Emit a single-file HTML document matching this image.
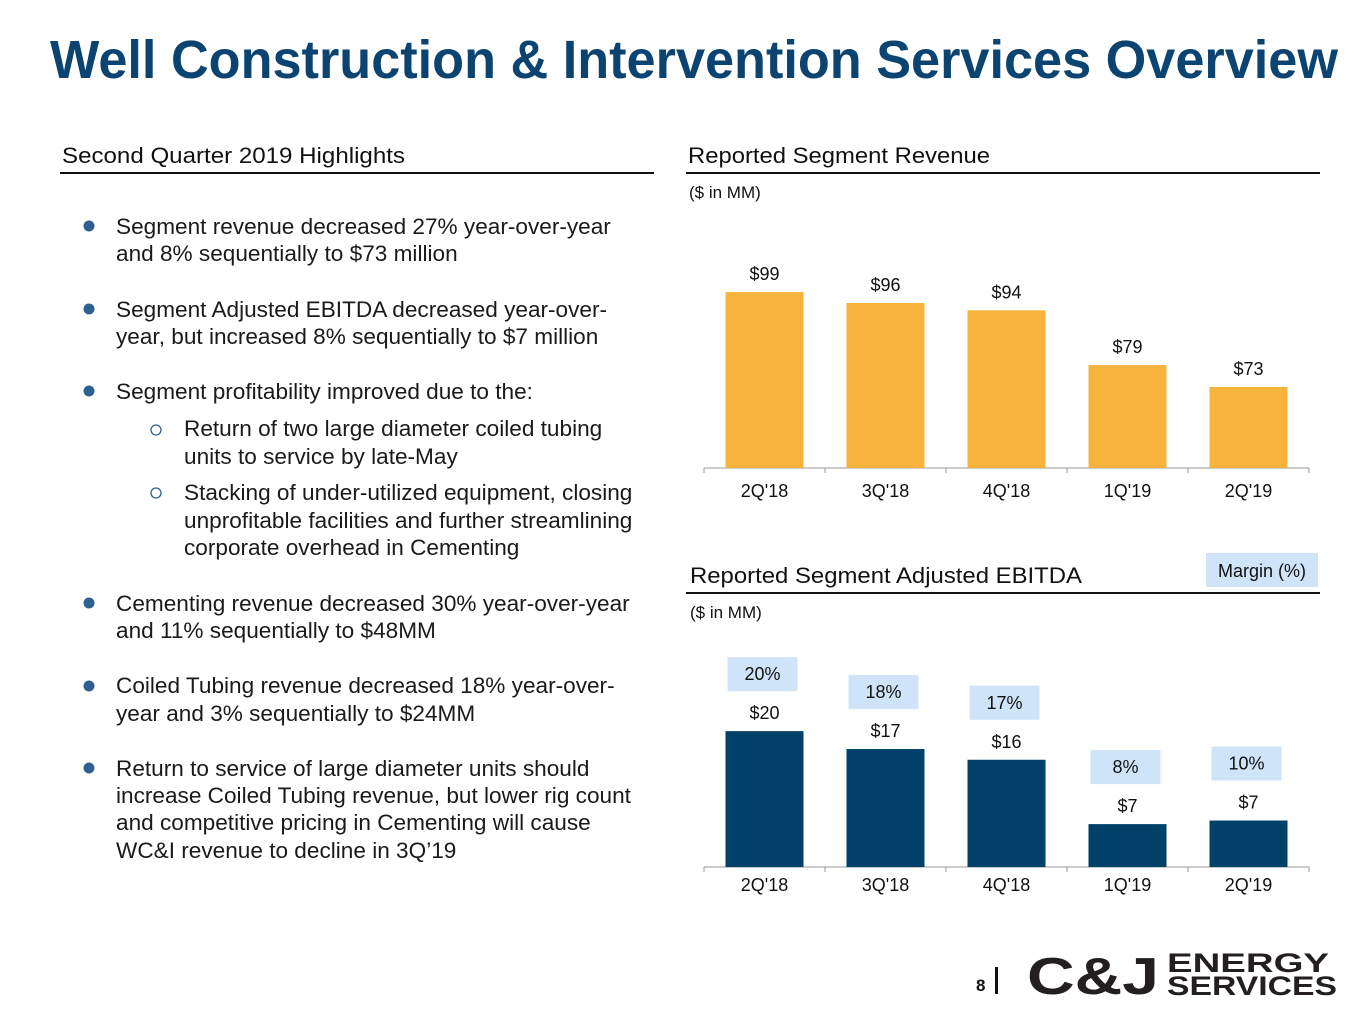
<!DOCTYPE html>
<html><head><meta charset="utf-8">
<style>
html,body{margin:0;padding:0;background:#fff;}
svg{display:block;}
.b{font-family:"Liberation Sans",Arial,sans-serif;font-size:22.6px;fill:#1a1a1a;}
.h{font-family:"Liberation Sans",Arial,sans-serif;font-size:22px;fill:#111;}
.s{font-family:"Liberation Sans",Arial,sans-serif;font-size:17px;fill:#111;}
.l{font-family:"Liberation Sans",Arial,sans-serif;font-size:18px;fill:#111;text-anchor:middle;}
</style></head>
<body>
<svg id="page" width="1365" height="1024" viewBox="0 0 1365 1024">
  <text x="50" y="78" textLength="1288" lengthAdjust="spacingAndGlyphs" style="font-family:'Liberation Sans',Arial,sans-serif;font-weight:bold;font-size:54px;fill:#0b4470;">Well Construction &amp; Intervention Services Overview</text>

  <text class="h" x="62" y="163" textLength="343" lengthAdjust="spacingAndGlyphs">Second Quarter 2019 Highlights</text>
  <rect x="60" y="172" width="594" height="2" fill="#111"/>

  <g>
    <circle cx="89" cy="226" r="5.5" fill="#2e6092"/>
    <text class="b" x="116" y="234">Segment revenue decreased 27% year-over-year</text>
    <text class="b" x="116" y="261">and 8% sequentially to $73 million</text>
    <circle cx="89" cy="309" r="5.5" fill="#2e6092"/>
    <text class="b" x="116" y="317">Segment Adjusted EBITDA decreased year-over-</text>
    <text class="b" x="116" y="344">year, but increased 8% sequentially to $7 million</text>
    <circle cx="89" cy="391" r="5.5" fill="#2e6092"/>
    <text class="b" x="116" y="399">Segment profitability improved due to the:</text>
    <circle cx="156" cy="430" r="5" fill="none" stroke="#2e6092" stroke-width="1.3"/>
    <text class="b" x="184" y="436">Return of two large diameter coiled tubing</text>
    <text class="b" x="184" y="464">units to service by late-May</text>
    <circle cx="156" cy="493" r="5" fill="none" stroke="#2e6092" stroke-width="1.3"/>
    <text class="b" x="184" y="500">Stacking of under-utilized equipment, closing</text>
    <text class="b" x="184" y="528">unprofitable facilities and further streamlining</text>
    <text class="b" x="184" y="555">corporate overhead in Cementing</text>
    <circle cx="89" cy="603" r="5.5" fill="#2e6092"/>
    <text class="b" x="116" y="611">Cementing revenue decreased 30% year-over-year</text>
    <text class="b" x="116" y="638">and 11% sequentially to $48MM</text>
    <circle cx="89" cy="686" r="5.5" fill="#2e6092"/>
    <text class="b" x="116" y="693">Coiled Tubing revenue decreased 18% year-over-</text>
    <text class="b" x="116" y="721">year and 3% sequentially to $24MM</text>
    <circle cx="89" cy="768" r="5.5" fill="#2e6092"/>
    <text class="b" x="116" y="776">Return to service of large diameter units should</text>
    <text class="b" x="116" y="803">increase Coiled Tubing revenue, but lower rig count</text>
    <text class="b" x="116" y="830">and competitive pricing in Cementing will cause</text>
    <text class="b" x="116" y="858">WC&amp;I revenue to decline in 3Q’19</text>
  </g>

  <text class="h" x="688" y="163" textLength="302" lengthAdjust="spacingAndGlyphs">Reported Segment Revenue</text>
  <rect x="686" y="172" width="634" height="2" fill="#111"/>
  <text class="s" x="689" y="198">($ in MM)</text>
  <g id="rev"></g>

  <text class="h" x="690" y="583" textLength="392" lengthAdjust="spacingAndGlyphs">Reported Segment Adjusted EBITDA</text>
  <rect x="686" y="592" width="634" height="2" fill="#111"/>
  <text class="s" x="690" y="618">($ in MM)</text>
  <rect x="1206" y="553" width="112" height="34" fill="#cfe4f8"/>
  <text class="l" x="1262" y="577">Margin (%)</text>
  <g id="ebit"></g>

  <g>
    <text x="976" y="991" style="font-family:'Liberation Sans',Arial,sans-serif;font-weight:bold;font-size:17px;fill:#111;">8</text>
    <rect x="995" y="967" width="3" height="27" fill="#111"/>
    <text x="1027" y="994" textLength="132" lengthAdjust="spacingAndGlyphs" style="font-family:'Liberation Sans',Arial,sans-serif;font-weight:bold;font-size:52px;fill:#231f20;">C&amp;J</text>
    <text x="1167" y="972" textLength="162" lengthAdjust="spacingAndGlyphs" style="font-family:'Liberation Sans',Arial,sans-serif;font-weight:bold;font-size:27px;fill:#231f20;">ENERGY</text>
    <text x="1167" y="995" textLength="170" lengthAdjust="spacingAndGlyphs" style="font-family:'Liberation Sans',Arial,sans-serif;font-weight:bold;font-size:27px;fill:#231f20;">SERVICES</text>
  </g>
</svg>
<script>
const categories = ["2Q'18","3Q'18","4Q'18","1Q'19","2Q'19"];
const revenueValues = [99, 96, 94, 79, 73];
const revenueLabels = ["$99","$96","$94","$79","$73"];
const ebitdaValues = [20, 17.5, 16, 7, 7.5];
const ebitdaLabels = ["$20","$17","$16","$7","$7"];
const marginLabels = ["20%","18%","17%","8%","10%"];

const NS = "http://www.w3.org/2000/svg";
function mk(tag, attrs, parent){
  const e = document.createElementNS(NS, tag);
  for (const k in attrs) e.setAttribute(k, attrs[k]);
  parent.appendChild(e); return e;
}
function xBand(i){ return 704 + 121 * i + 60.5; }

function drawChart(gid, vals, labels, base, vmin, scale, color, margins, prefix, catOff){
  const g = document.getElementById(gid);
  const y = v => base - (v - vmin) * scale;
  const ax = mk('line', {x1:704, x2:1309, y1:base, y2:base, stroke:'#999', 'stroke-width':1}, g);
  
  
  for (let i = 0; i <= categories.length; i++){
    const t = mk('line', {x1:704+121*i, x2:704+121*i, y1:base, y2:base+5, stroke:'#999'}, g);
    
    
  }
  vals.forEach((v, i) => {
    const cx = xBand(i), top = y(v);
    const r = mk('rect', {x:cx-39, y:top, width:78, height:base-top, fill:color}, g);
    
    
    const lt = mk('text', {x:cx, y:top-12, class:'l'}, g);
    lt.textContent = labels[i];
    
    
    const ct = mk('text', {x:cx, y:base+catOff, class:'l'}, g);
    ct.textContent = categories[i];
    
    
    if (margins){
      const bb = top - 40;
      const mr = mk('rect', {x:cx-37, y:bb-34, width:70, height:34, fill:'#cfe4f8'}, g);
      
      
      const mt = mk('text', {x:cx-2, y:bb-11, class:'l'}, g);
      mt.textContent = margins[i];
      
      
    }
  });
}
drawChart('rev', revenueValues, revenueLabels, 468, 50.8, 3.65, '#f8b33c', null, 'revenue', 29);
drawChart('ebit', ebitdaValues, ebitdaLabels, 867, 1, 7.15, '#014169', marginLabels, 'ebitda', 24);
</script>
</body></html>
